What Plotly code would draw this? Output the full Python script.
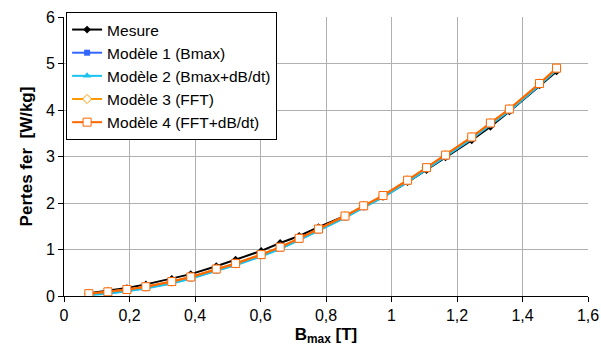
import plotly.graph_objects as go

B = [0.076, 0.134, 0.192, 0.250, 0.329, 0.387, 0.465, 0.524, 0.602, 0.660, 0.718, 0.777,
     0.858, 0.915, 0.974, 1.049, 1.107, 1.165, 1.245, 1.302, 1.360, 1.452, 1.504]
mesure = [0.06, 0.11, 0.17, 0.25, 0.37, 0.47, 0.64, 0.78, 0.97, 1.14, 1.29, 1.48,
          1.72, 1.92, 2.13, 2.45, 2.71, 2.98, 3.35, 3.64, 3.97, 4.53, 4.83]
modele1 = [0.03, 0.06, 0.11, 0.17, 0.28, 0.38, 0.55, 0.67, 0.86, 1.02, 1.21, 1.41,
           1.69, 1.91, 2.13, 2.46, 2.73, 3.00, 3.39, 3.69, 3.99, 4.54, 4.87]
modele2 = [0.02, 0.05, 0.10, 0.16, 0.27, 0.37, 0.54, 0.66, 0.85, 1.01, 1.20, 1.40,
           1.68, 1.90, 2.12, 2.45, 2.72, 2.99, 3.38, 3.68, 3.98, 4.53, 4.86]
modele3 = [0.05, 0.09, 0.14, 0.20, 0.31, 0.41, 0.58, 0.70, 0.89, 1.05, 1.24, 1.44,
           1.72, 1.94, 2.16, 2.49, 2.76, 3.03, 3.42, 3.72, 4.02, 4.57, 4.90]
modele4 = [0.05, 0.09, 0.14, 0.20, 0.31, 0.41, 0.58, 0.70, 0.89, 1.05, 1.24, 1.44,
           1.72, 1.94, 2.16, 2.49, 2.76, 3.03, 3.42, 3.72, 4.02, 4.57, 4.90]

x_ticks = [0, 0.2, 0.4, 0.6, 0.8, 1, 1.2, 1.4, 1.6]
x_ticktext = ["0", "0,2", "0,4", "0,6", "0,8", "1", "1,2", "1,4", "1,6"]
y_ticks = [0, 1, 2, 3, 4, 5, 6]

font = "Liberation Sans, Arial, sans-serif"

fig = go.Figure()
fig.add_trace(go.Scatter(x=B, y=mesure, name="Mesure", mode="lines+markers",
                         line=dict(color="black", width=2),
                         marker=dict(symbol="diamond", size=6, color="black")))
fig.add_trace(go.Scatter(x=B, y=modele1, name="Modèle 1 (Bmax)", mode="lines+markers",
                         line=dict(color="#3366ff", width=2),
                         marker=dict(symbol="square", size=6, color="#3366ff")))
fig.add_trace(go.Scatter(x=B, y=modele2, name="Modèle 2 (Bmax+dB/dt)", mode="lines+markers",
                         line=dict(color="#19c3f0", width=2),
                         marker=dict(symbol="triangle-up", size=7, color="#19c3f0")))
fig.add_trace(go.Scatter(x=B, y=modele3, name="Modèle 3 (FFT)", mode="lines+markers",
                         line=dict(color="#ff9900", width=2),
                         marker=dict(symbol="diamond", size=7, color="white",
                                     line=dict(color="#ff9900", width=1))))
fig.add_trace(go.Scatter(x=B, y=modele4, name="Modèle 4 (FFT+dB/dt)", mode="lines+markers",
                         line=dict(color="#ff6600", width=2),
                         marker=dict(symbol="square", size=8, color="white",
                                     line=dict(color="#ff6600", width=1))))

fig.update_layout(
    width=601, height=356,
    margin=dict(l=64, r=13, t=15, b=60),
    paper_bgcolor="white", plot_bgcolor="white",
    font=dict(family=font, size=16, color="black"),
    separators=", ",
    legend=dict(x=0.004, y=1.018, xanchor="left", yanchor="top",
                bordercolor="black", borderwidth=1, bgcolor="white",
                font=dict(size=15.5), tracegroupgap=0, itemwidth=30),
    showlegend=True,
)
fig.update_xaxes(range=[0, 1.6], tickvals=x_ticks, ticktext=x_ticktext,
                 automargin=False,
                 showgrid=True, gridcolor="#b0b0b0", gridwidth=1,
                 showline=True, linecolor="black", linewidth=1,
                 ticks="outside", ticklen=5, tickcolor="black",
                 zeroline=False,
                 title=dict(text="<b>B<sub>max</sub> [T]</b>", font=dict(size=17), standoff=4))
fig.update_yaxes(range=[0, 6], tickvals=y_ticks,
                 automargin=False,
                 showgrid=True, gridcolor="#b0b0b0", gridwidth=1,
                 showline=True, linecolor="black", linewidth=1,
                 ticks="outside", ticklen=5, tickcolor="black",
                 zeroline=False,
                 title=dict(text="<b>Pertes fer&nbsp;&nbsp;[W/kg]</b>", font=dict(size=17), standoff=8))

fig.write_html("out.html")
